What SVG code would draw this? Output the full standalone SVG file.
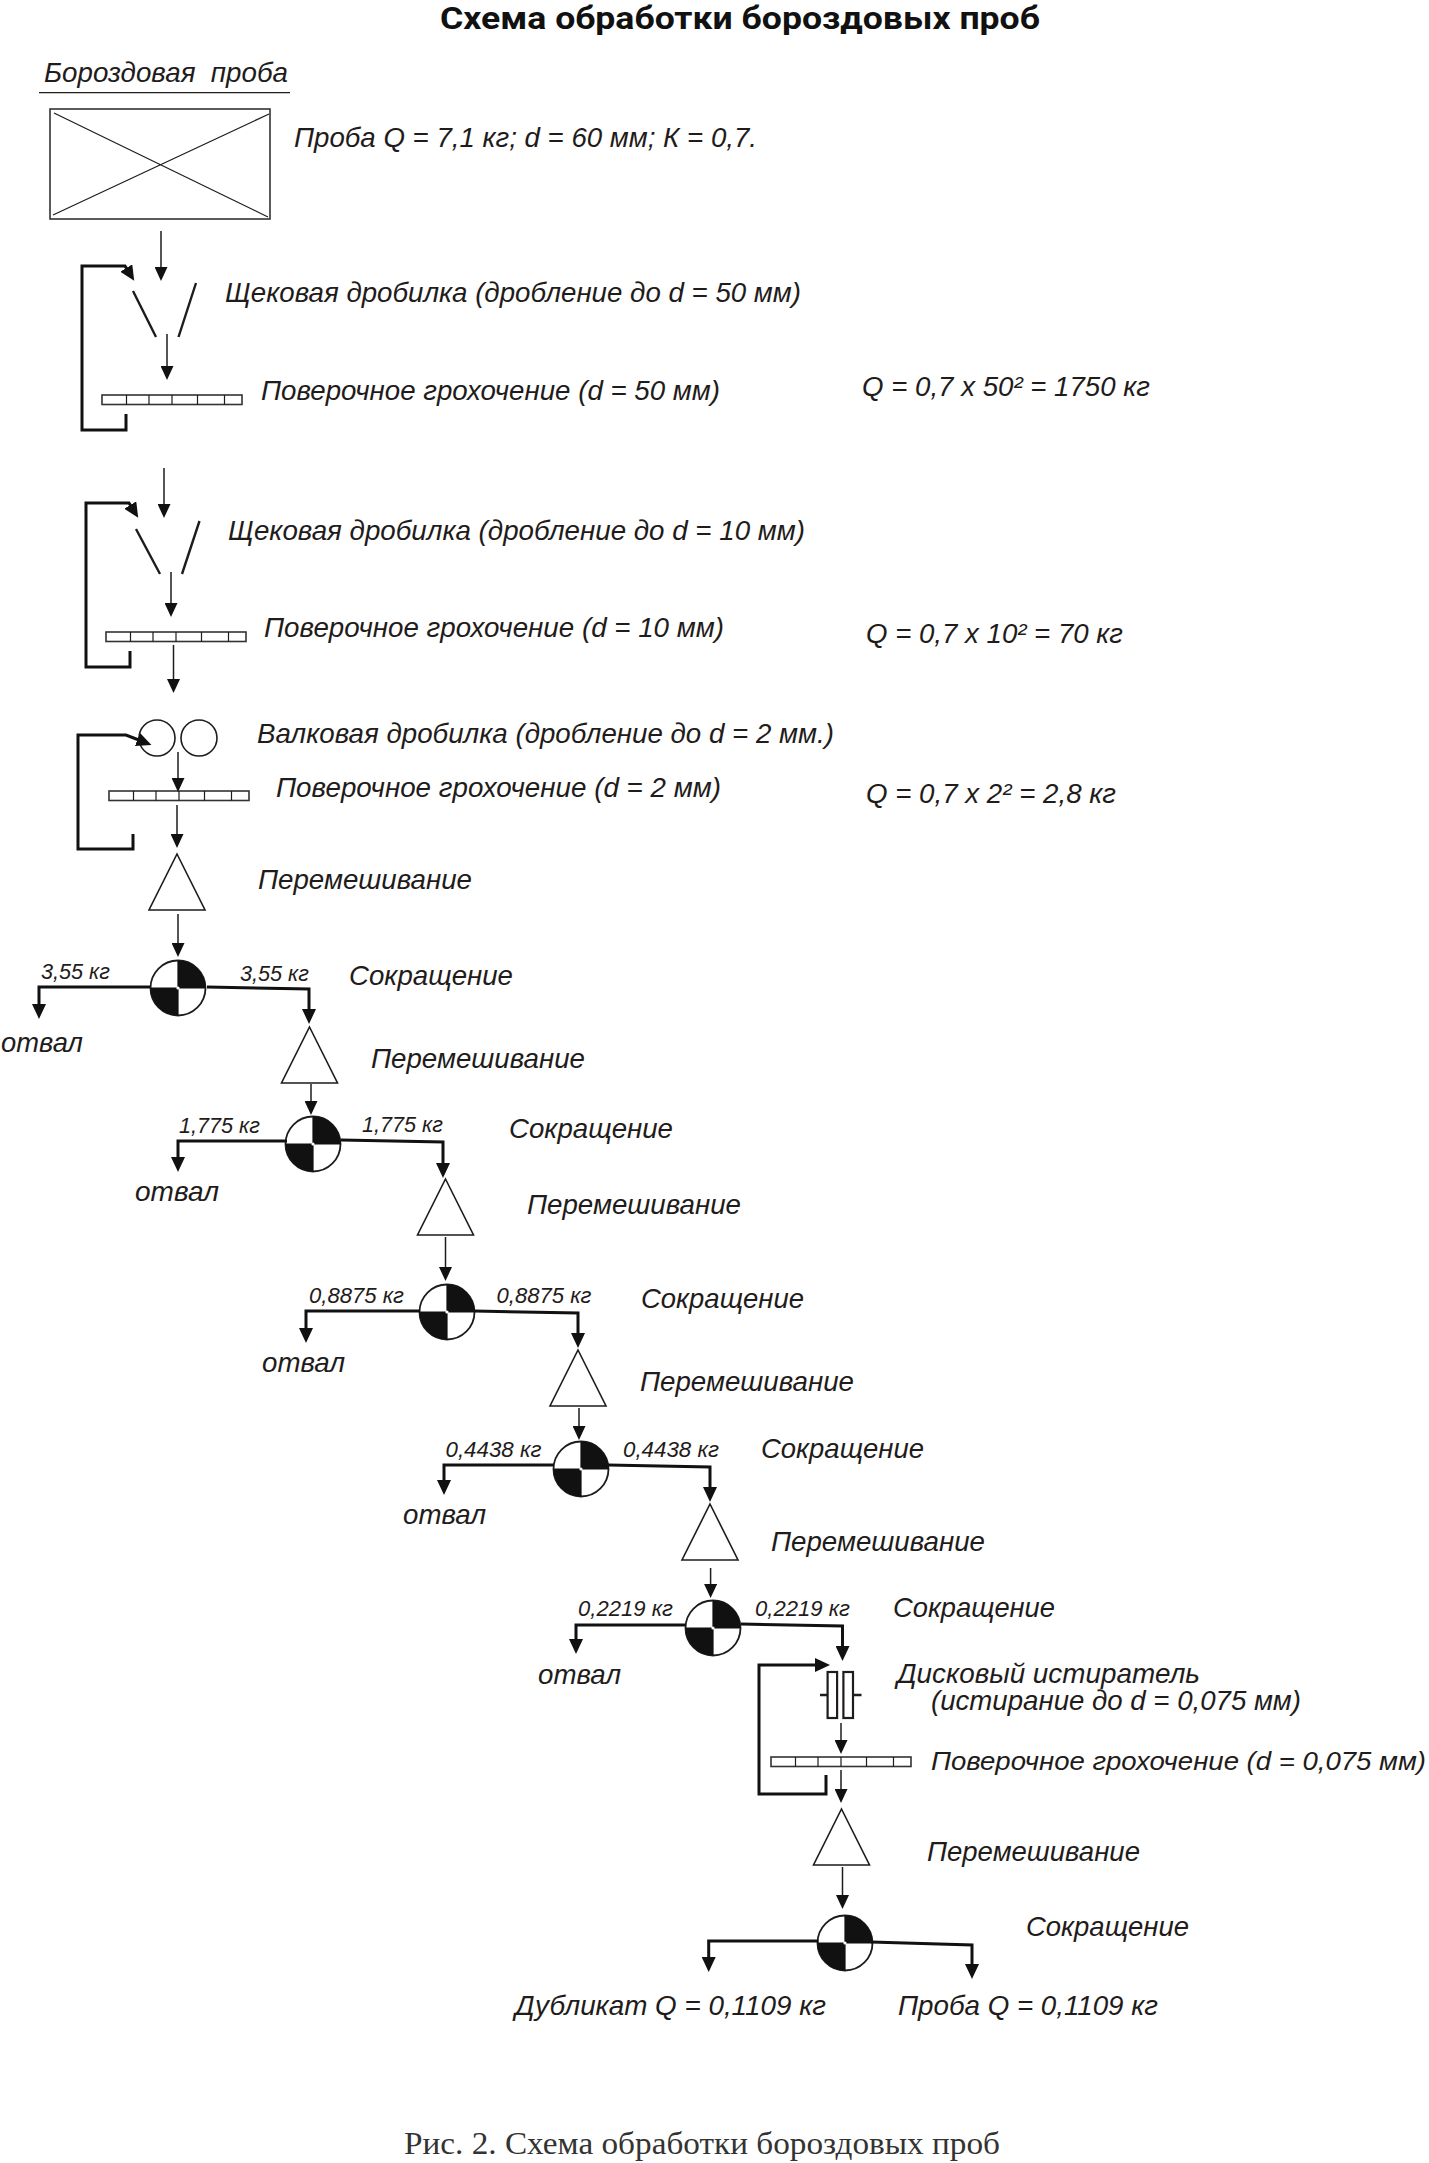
<svg xmlns="http://www.w3.org/2000/svg" xmlns:xlink="http://www.w3.org/1999/xlink" width="1429" height="2163" viewBox="0 0 1429 2163">
<style>
text{fill:#1f1c1b;font-family:"Liberation Sans",Arial,sans-serif;font-style:italic;font-size:28px}
.title{font-family:Roboto,"Open Sans",sans-serif;font-style:normal;font-weight:700;font-size:31px;fill:#111}
.small{font-size:22px}
.edge{font-size:26px}
.cap{font-family:"Liberation Serif","Times New Roman",serif;font-style:normal;font-size:31px;fill:#333}
.thin{fill:none;stroke:#1f1c1b;stroke-width:1.5;marker-end:url(#ah)}
.thick{fill:none;stroke:#111;stroke-width:3;marker-end:url(#ahb)}
.shape{fill:#fff;stroke:#1f1c1b;stroke-width:1.6}
.jaw{fill:none;stroke:#1f1c1b;stroke-width:2.4}
.hair{fill:none;stroke:#1f1c1b;stroke-width:1.2}
.scr{fill:#fff;stroke:#333;stroke-width:1.6}
</style>
<defs>
<marker id="ah" markerUnits="userSpaceOnUse" viewBox="0 0 14 13" markerWidth="14" markerHeight="13" refX="7" refY="6.5" orient="auto"><path d="M0,0L14,6.5L0,13z" fill="#111"/></marker>
<marker id="ahb" markerUnits="userSpaceOnUse" viewBox="0 0 15 14" markerWidth="15" markerHeight="14" refX="7" refY="7" orient="auto"><path d="M0,0L15,7L0,14z" fill="#111"/></marker>
<g id="splitter">
<circle r="27.5" fill="#fff" stroke="#1f1c1b" stroke-width="1.8"/>
<path d="M0,0V-27.5A27.5,27.5 0 0 1 27.5,0zM0,0V27.5A27.5,27.5 0 0 1 -27.5,0z" fill="#111"/>
<path d="M0,-27.5V27.5M-27.5,0H27.5" stroke="#111" stroke-width="1.2"/>
<circle r="1.6" fill="#fff"/>
</g>
<g id="screen">
<rect x="0" y="0" width="140" height="9.5" class="scr"/>
<path d="M24.500,0v9.500M47,0v9.500M70,0v9.500M95.500,0v9.500M122.500,0v9.500" class="hair"/>
</g>
<path id="mix" d="M0,0L28,56H-28z" class="shape"/>
</defs>

<text id="title" class="title" x="440" y="29" textLength="600" lengthAdjust="spacingAndGlyphs">Схема обработки бороздовых проб</text>

<g id="n-sample">
<text x="44" y="82" textLength="244" lengthAdjust="spacingAndGlyphs" xml:space="preserve">Бороздовая  проба</text>
<path d="M39,92.700H290" class="hair"/>
<rect x="50" y="109" width="220" height="110" fill="#fff" stroke="#333" stroke-width="1.6"/>
<path d="M54,113L268,217M53,215L269,114" class="hair"/>
<text x="294" y="147" textLength="463" lengthAdjust="spacingAndGlyphs">Проба Q = 7,1 кг; d = 60 мм; К = 0,7.</text>
</g>

<g id="n-jaw1">
<path d="M133,291L156,337M196,283L178.500,337" class="jaw"/>
<text x="225" y="302" textLength="576" lengthAdjust="spacingAndGlyphs">Щековая дробилка (дробление до d = 50 мм)</text>
</g>
<g id="n-screen1">
<use href="#screen" x="102" y="395"/>
<text x="261" y="400" textLength="459" lengthAdjust="spacingAndGlyphs">Поверочное грохочение (d = 50 мм)</text>
<text x="862" y="396" textLength="288" lengthAdjust="spacingAndGlyphs">Q = 0,7 х 50² = 1750 кг</text>
</g>

<g id="n-jaw2">
<path d="M136,529L160,574M199.500,521L182,574" class="jaw"/>
<text x="228" y="540" textLength="577" lengthAdjust="spacingAndGlyphs">Щековая дробилка (дробление до d = 10 мм)</text>
</g>
<g id="n-screen2">
<use href="#screen" x="106" y="632"/>
<text x="264" y="637" textLength="460" lengthAdjust="spacingAndGlyphs">Поверочное грохочение (d = 10 мм)</text>
<text x="866" y="643" textLength="257" lengthAdjust="spacingAndGlyphs">Q = 0,7 х 10² = 70 кг</text>
</g>

<g id="n-roll">
<circle cx="157" cy="738" r="18" class="shape"/>
<circle cx="199" cy="738" r="18" class="shape"/>
<text x="257" y="743" textLength="577" lengthAdjust="spacingAndGlyphs">Валковая дробилка (дробление до d = 2 мм.)</text>
</g>
<g id="n-screen3">
<use href="#screen" x="109" y="791"/>
<text x="276" y="797" textLength="445" lengthAdjust="spacingAndGlyphs">Поверочное грохочение (d = 2 мм)</text>
<text x="866" y="803" textLength="250" lengthAdjust="spacingAndGlyphs">Q = 0,7 х 2² = 2,8 кг</text>
</g>

<g id="n-mix1"><use href="#mix" x="177" y="854"/><text x="258" y="889" textLength="214" lengthAdjust="spacingAndGlyphs">Перемешивание</text></g>
<g id="n-split1"><use href="#splitter" x="178" y="988"/>
<text class="small" x="41" y="979" textLength="69" lengthAdjust="spacingAndGlyphs">3,55 кг</text>
<text class="small" x="240" y="981" textLength="69" lengthAdjust="spacingAndGlyphs">3,55 кг</text>
<text x="349" y="985" textLength="164" lengthAdjust="spacingAndGlyphs">Сокращение</text>
<text x="1" y="1052" textLength="82" lengthAdjust="spacingAndGlyphs">отвал</text></g>

<g id="n-mix2"><use href="#mix" x="309.500" y="1027"/><text x="371" y="1068" textLength="214" lengthAdjust="spacingAndGlyphs">Перемешивание</text></g>
<g id="n-split2"><use href="#splitter" x="313" y="1144"/>
<text class="small" x="179" y="1133" textLength="81" lengthAdjust="spacingAndGlyphs">1,775 кг</text>
<text class="small" x="362" y="1132" textLength="81" lengthAdjust="spacingAndGlyphs">1,775 кг</text>
<text x="509" y="1138" textLength="164" lengthAdjust="spacingAndGlyphs">Сокращение</text>
<text x="135" y="1201" textLength="84" lengthAdjust="spacingAndGlyphs">отвал</text></g>

<g id="n-mix3"><use href="#mix" x="445.500" y="1179"/><text x="527" y="1214" textLength="214" lengthAdjust="spacingAndGlyphs">Перемешивание</text></g>
<g id="n-split3"><use href="#splitter" x="447" y="1312"/>
<text class="small" x="309" y="1303" textLength="95" lengthAdjust="spacingAndGlyphs">0,8875 кг</text>
<text class="small" x="496.500" y="1303" textLength="95" lengthAdjust="spacingAndGlyphs">0,8875 кг</text>
<text x="641" y="1308" textLength="163" lengthAdjust="spacingAndGlyphs">Сокращение</text>
<text x="262" y="1372" textLength="83" lengthAdjust="spacingAndGlyphs">отвал</text></g>

<g id="n-mix4"><use href="#mix" x="578" y="1350"/><text x="640" y="1391" textLength="214" lengthAdjust="spacingAndGlyphs">Перемешивание</text></g>
<g id="n-split4"><use href="#splitter" x="581" y="1469"/>
<text class="small" x="445.500" y="1457" textLength="96" lengthAdjust="spacingAndGlyphs">0,4438 кг</text>
<text class="small" x="623" y="1457" textLength="96" lengthAdjust="spacingAndGlyphs">0,4438 кг</text>
<text x="761" y="1458" textLength="163" lengthAdjust="spacingAndGlyphs">Сокращение</text>
<text x="403" y="1524" textLength="83" lengthAdjust="spacingAndGlyphs">отвал</text></g>

<g id="n-mix5"><use href="#mix" x="710" y="1504"/><text x="771" y="1551" textLength="214" lengthAdjust="spacingAndGlyphs">Перемешивание</text></g>
<g id="n-split5"><use href="#splitter" x="713" y="1628"/>
<text class="small" x="578" y="1616" textLength="95" lengthAdjust="spacingAndGlyphs">0,2219 кг</text>
<text class="small" x="755" y="1616" textLength="95" lengthAdjust="spacingAndGlyphs">0,2219 кг</text>
<text x="893" y="1617" textLength="162" lengthAdjust="spacingAndGlyphs">Сокращение</text>
<text x="538" y="1684" textLength="83" lengthAdjust="spacingAndGlyphs">отвал</text></g>

<g id="n-disc">
<rect x="827.600" y="1672" width="9.500" height="46" class="shape" style="stroke-width:2.2"/>
<rect x="843.400" y="1672" width="9.600" height="46" class="shape" style="stroke-width:2.2"/>
<path d="M820,1695H827.600M853,1695H861.500" class="jaw"/>
<text x="897" y="1683" textLength="303" lengthAdjust="spacingAndGlyphs">Дисковый истиратель</text>
<text x="931" y="1710" textLength="370" lengthAdjust="spacingAndGlyphs">(истирание до d = 0,075 мм)</text>
</g>
<g id="n-screen4">
<use href="#screen" x="771" y="1757"/>
<text class="edge" x="931" y="1770" textLength="495" lengthAdjust="spacingAndGlyphs">Поверочное грохочение (d = 0,075 мм)</text>
</g>
<g id="n-mix6"><use href="#mix" x="841.500" y="1809"/><text x="927" y="1861" textLength="213" lengthAdjust="spacingAndGlyphs">Перемешивание</text></g>
<g id="n-split6"><use href="#splitter" x="845" y="1943"/>
<text x="1026" y="1936" textLength="163" lengthAdjust="spacingAndGlyphs">Сокращение</text>
<text x="515" y="2015" textLength="311" lengthAdjust="spacingAndGlyphs">Дубликат Q = 0,1109 кг</text>
<text x="898" y="2015" textLength="260" lengthAdjust="spacingAndGlyphs">Проба Q = 0,1109 кг</text></g>

<g id="connectors">
<path class="thin" d="M161,231V274"/>
<path class="thin" d="M167,334V373"/>
<path class="thick" d="M126,414V430H82V266H125L130,274"/>
<path class="thin" d="M164,468V511"/>
<path class="thin" d="M171,572V610"/>
<path class="thick" d="M130,651V667H86V503H129L134,511"/>
<path class="thin" d="M173.500,645V686"/>
<path class="thin" d="M178,752V785"/>
<path class="thin" d="M177,805V841"/>
<path class="thick" d="M133,834V849H78V735H126L144,742"/>
<path class="thin" d="M178,914V950"/>
<path class="thick" d="M150,987H39V1011"/>
<path class="thick" d="M207,987L309,989V1016"/>
<path class="thin" d="M311,1084V1108"/>
<path class="thick" d="M287,1141H178V1164"/>
<path class="thick" d="M341,1140L443,1142V1170"/>
<path class="thin" d="M445.500,1237V1274"/>
<path class="thick" d="M420,1311H306V1335"/>
<path class="thick" d="M474.500,1311L578,1313V1340"/>
<path class="thin" d="M579,1408V1433"/>
<path class="thick" d="M554,1465H444V1487"/>
<path class="thick" d="M608,1465L710,1467V1494"/>
<path class="thin" d="M710.600,1568V1591"/>
<path class="thick" d="M686,1625H576V1646"/>
<path class="thick" d="M741,1624L842.500,1626V1653"/>
<path class="thick" d="M826,1775V1794H759V1665H822"/>
<path class="thin" d="M841,1723V1747"/>
<path class="thin" d="M841,1770V1796"/>
<path class="thin" d="M842.500,1867V1902"/>
<path class="thick" d="M818.500,1941H708.700V1964"/>
<path class="thick" d="M871,1942L972,1945V1971"/>
</g>

<text id="caption" class="cap" x="404" y="2154" textLength="596" lengthAdjust="spacingAndGlyphs">Рис. 2. Схема обработки бороздовых проб</text>
</svg>
